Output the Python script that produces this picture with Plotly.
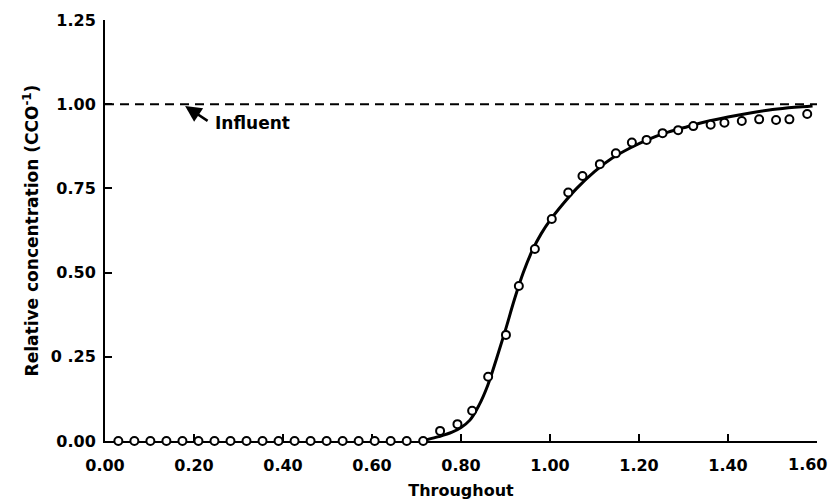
import plotly.graph_objects as go

# Observed breakthrough data (open circles)
x_obs = [0.030, 0.066, 0.102, 0.138, 0.174, 0.210, 0.246, 0.282, 0.318, 0.354,
         0.390, 0.426, 0.462, 0.498, 0.534, 0.570, 0.606, 0.642, 0.678, 0.715,
         0.753, 0.792, 0.825, 0.861, 0.901, 0.930, 0.966, 1.004, 1.041, 1.073,
         1.112, 1.148, 1.184, 1.217, 1.253, 1.288, 1.322, 1.361, 1.392, 1.431,
         1.470, 1.508, 1.538, 1.578]
y_obs = [0.0, 0.0, 0.0, 0.0, 0.0, 0.0, 0.0, 0.0, 0.0, 0.0,
         0.0, 0.0, 0.0, 0.0, 0.0, 0.0, 0.0, 0.0, 0.0, 0.0,
         0.030, 0.050, 0.090, 0.191, 0.315, 0.460, 0.570, 0.659, 0.738, 0.787,
         0.822, 0.854, 0.886, 0.894, 0.914, 0.923, 0.935, 0.939, 0.945, 0.950,
         0.955, 0.953, 0.955, 0.971]

# Model curve (solid line)
x_fit = [0.71, 0.72, 0.75, 0.78, 0.80, 0.82, 0.84, 0.86, 0.88, 0.90,
         0.92, 0.94, 0.96, 0.98, 1.00, 1.03, 1.06, 1.10, 1.14, 1.18,
         1.22, 1.26, 1.30, 1.35, 1.40, 1.45, 1.50, 1.55, 1.59]
y_fit = [0.0, 0.003, 0.013, 0.026, 0.040, 0.062, 0.105, 0.165, 0.245, 0.330,
         0.420, 0.500, 0.565, 0.615, 0.655, 0.705, 0.750, 0.800, 0.840, 0.870,
         0.895, 0.915, 0.930, 0.948, 0.962, 0.974, 0.984, 0.991, 0.995]

# Influent level (dashed)
x_inf = [0.0, 1.60]
y_inf = [1.0, 1.0]

x_ticks = [0.0, 0.2, 0.4, 0.6, 0.8, 1.0, 1.2, 1.4, 1.6]
x_ticktext = ["0.00", "0.20", "0.40", "0.60", "0.80", "1.00", "1.20", "1.40", "1.60"]
y_ticks = [0.0, 0.25, 0.5, 0.75, 1.0, 1.25]
y_ticktext = ["0.00", "0 .25", "0.50", "0.75", "1.00", "1.25"]

FONT = "DejaVu Sans"

fig = go.Figure()
fig.add_trace(go.Scatter(x=x_inf, y=y_inf, mode="lines",
                         line=dict(color="black", width=2, dash="9px,6px"),
                         hoverinfo="skip", showlegend=False))
fig.add_trace(go.Scatter(x=x_fit, y=y_fit, mode="lines",
                         line=dict(color="black", width=3, shape="spline"),
                         showlegend=False))
fig.add_trace(go.Scatter(x=x_obs, y=y_obs, mode="markers",
                         marker=dict(symbol="circle", size=8, color="white",
                                     line=dict(color="black", width=2)),
                         cliponaxis=False, showlegend=False))

fig.add_annotation(x=0.18, y=0.995, xref="x", yref="y", text="",
                   showarrow=True, arrowhead=2, arrowsize=1.3, arrowwidth=2.5,
                   arrowcolor="black", ax=24, ay=16)
fig.add_annotation(x=0.243, y=0.944, xref="x", yref="y", text="Influent",
                   showarrow=False, xanchor="left", yanchor="middle",
                   font=dict(family=FONT, size=17, color="black", weight="bold"))

axis_font = dict(family=FONT, size=16, color="black", weight="bold")
title_font = dict(family=FONT, size=16, color="black", weight="bold")

# last x tick label is placed just inside the page edge (as in the original)
fig.add_annotation(x=x_ticks[-1], y=0, xref="x", yref="paper", text=x_ticktext[-1],
                   showarrow=False, xanchor="right", yanchor="top",
                   xshift=12, yshift=-12, font=axis_font)

fig.update_xaxes(range=[0, 1.6], tickmode="array", tickvals=x_ticks,
                 ticktext=x_ticktext[:-1] + [""],
                 showline=True, linecolor="black", linewidth=2, mirror=False,
                 ticks="inside", ticklen=7, tickwidth=2, tickcolor="black",
                 showgrid=False, zeroline=False, layer="below traces",
                 tickfont=axis_font, ticklabelstandoff=9, automargin=False,
                 ticklabeloverflow="allow",
                 title=dict(text="Throughout", font=title_font, standoff=11))
fig.update_yaxes(range=[0, 1.25], tickmode="array", tickvals=y_ticks, ticktext=y_ticktext,
                 showline=True, linecolor="black", linewidth=2, mirror=False,
                 ticks="inside", ticklen=7, tickwidth=2, tickcolor="black",
                 showgrid=False, zeroline=False, layer="below traces",
                 tickfont=axis_font, ticklabelstandoff=4, automargin=False,
                 ticklabeloverflow="allow",
                 title=dict(text="Relative concentration (CCO<sup>-1</sup>)",
                            font=dict(family=FONT, size=17, color="black", weight="bold"),
                            standoff=8))

fig.update_layout(width=831, height=503, margin=dict(l=105, r=14, t=20, b=62),
                  paper_bgcolor="white", plot_bgcolor="white", showlegend=False)

fig.write_html("out.html")
